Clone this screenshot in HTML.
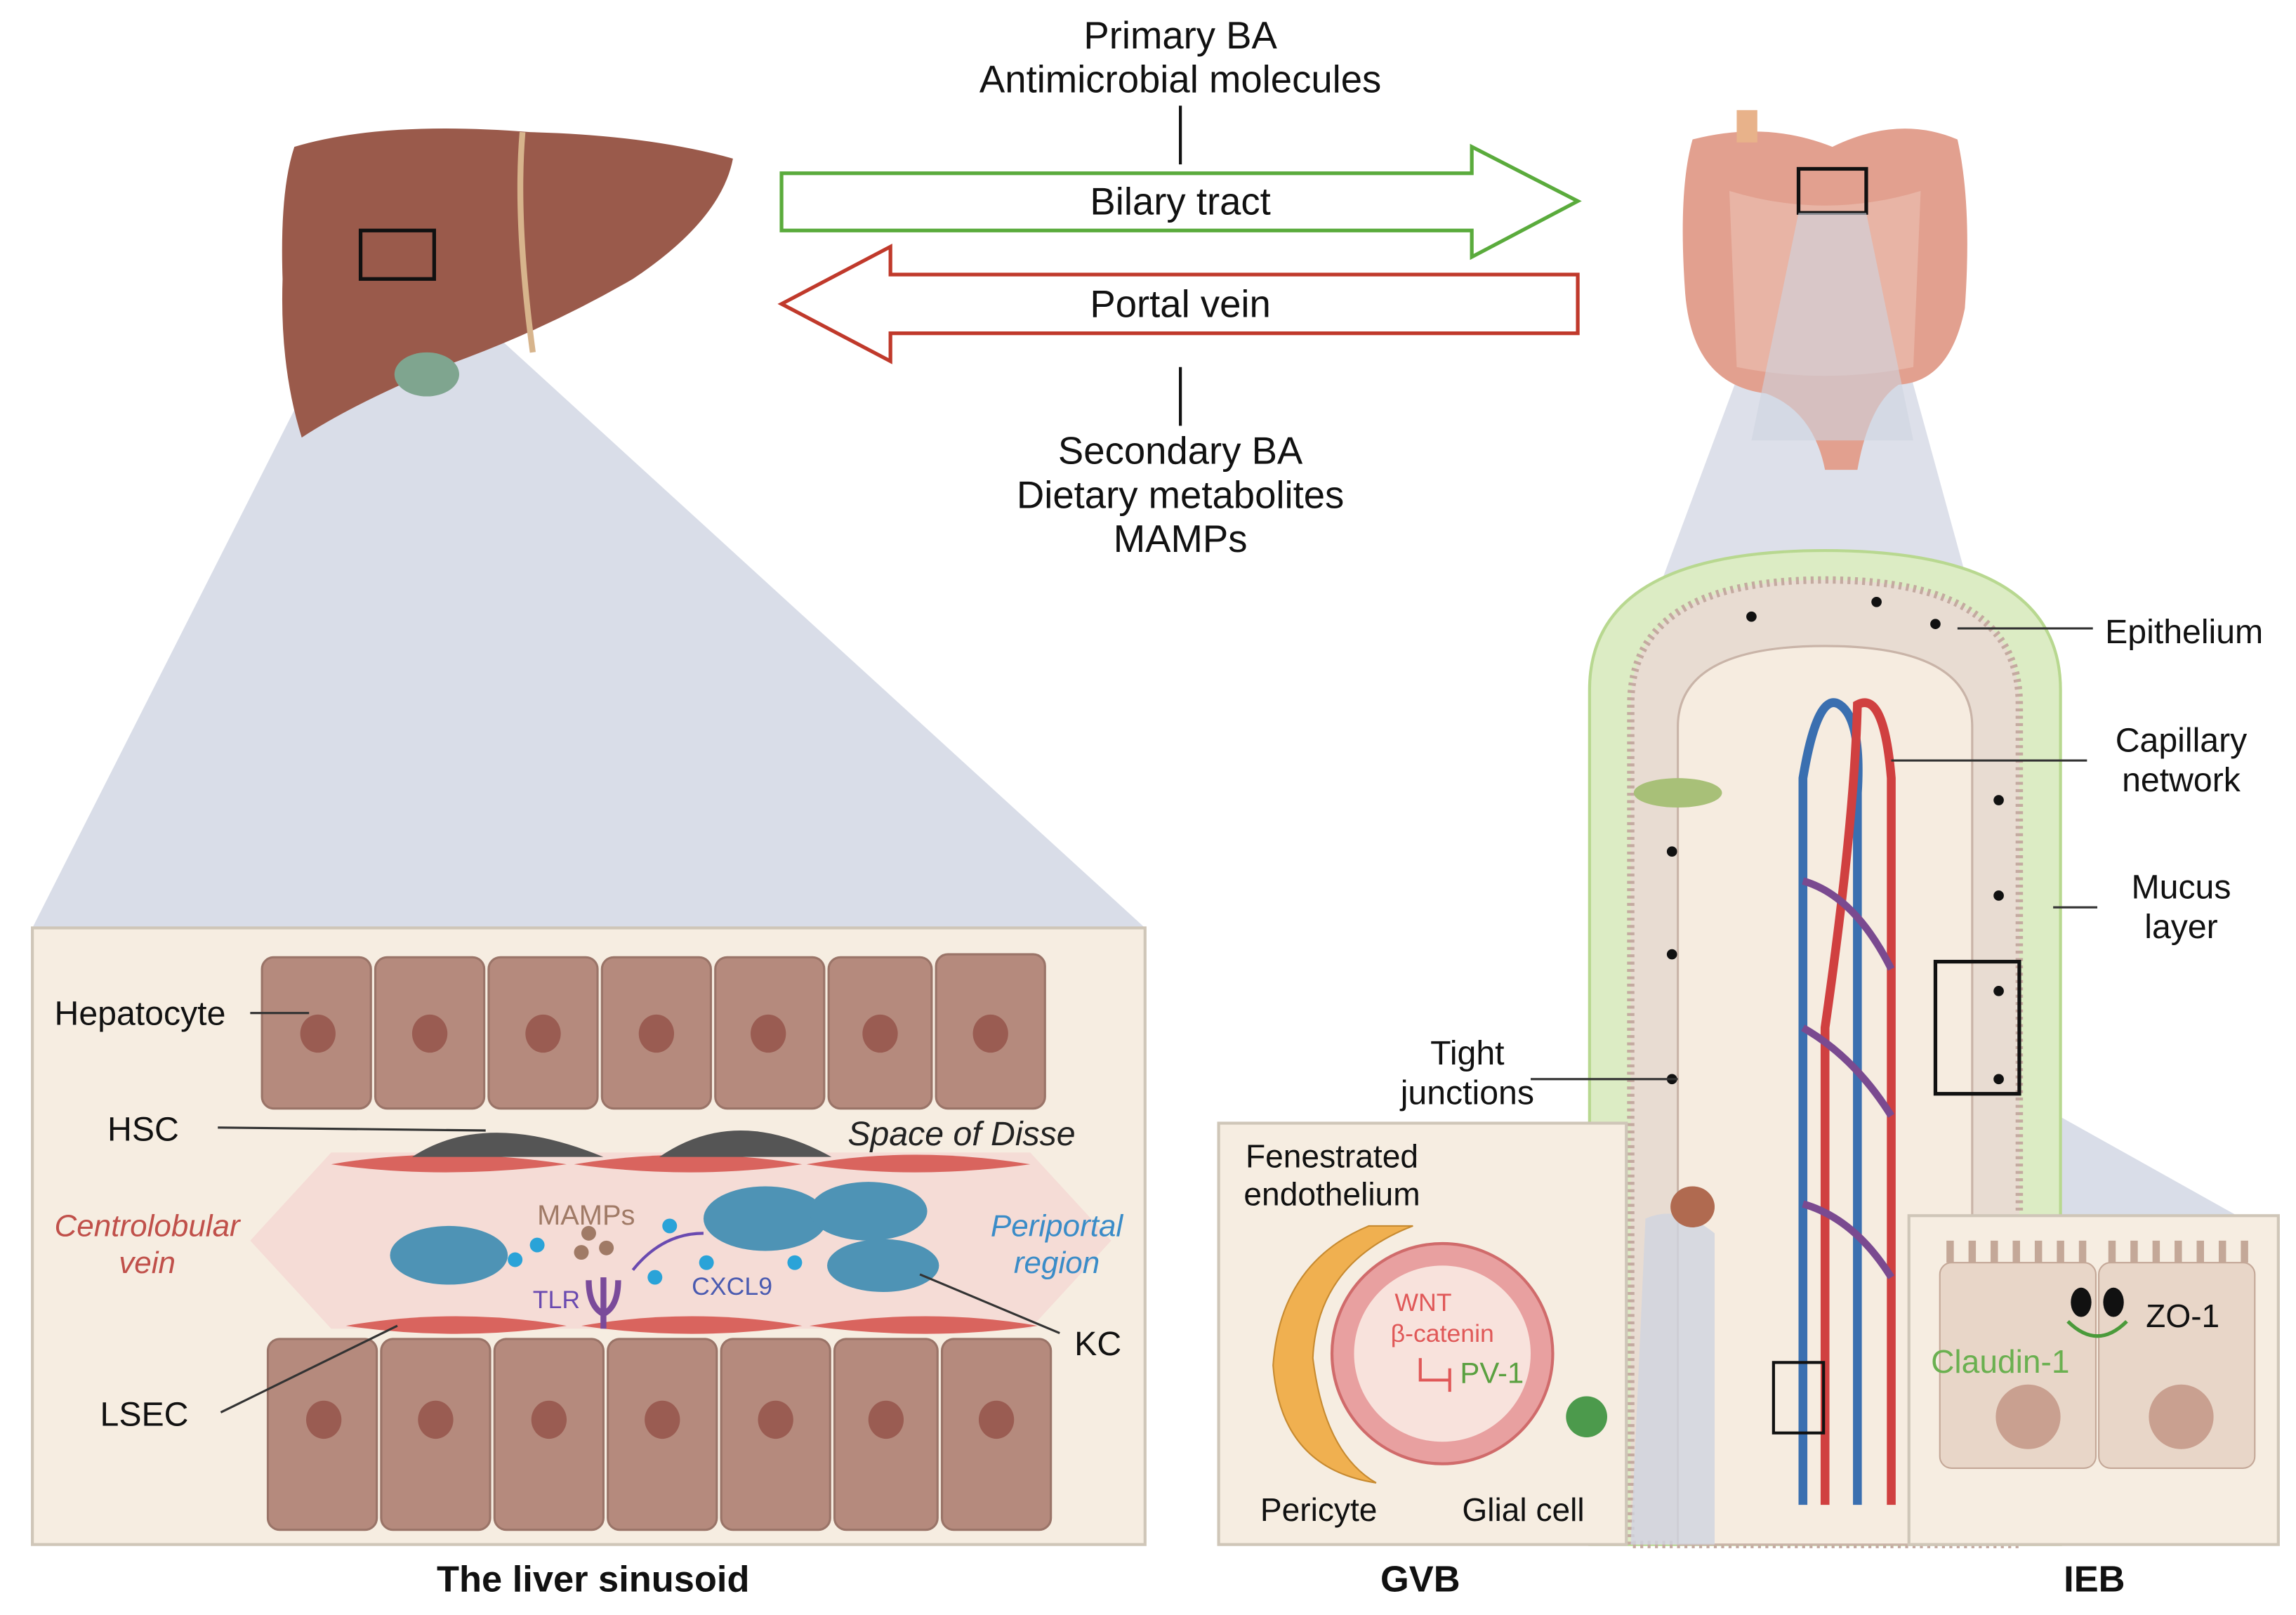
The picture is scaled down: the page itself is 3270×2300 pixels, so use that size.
<!DOCTYPE html>
<html><head><meta charset="utf-8"><style>
html,body{margin:0;padding:0;background:#fff;}
svg{display:block;}
text{font-family:"Liberation Sans",sans-serif;}
</style></head><body>
<svg width="3270" height="2300" viewBox="0 0 1560 1100" preserveAspectRatio="none" xmlns="http://www.w3.org/2000/svg">
<rect width="1560" height="1100" fill="#fff"/>
<!-- projections -->
<polygon points="245,190 295,190 778,632 22,632" fill="#d9dde8"/>
<polygon points="1222,145 1268,145 1335,390 1120,420" fill="#d9dde8" opacity="0.9"/>
<polygon points="1315,745 1372,745 1520,828 1297,828" fill="#d9dde8"/>
<polygon points="1205,975 1240,975 1105,1052 1105,820" fill="#d9dde8"/>
<!-- liver -->
<path d="M200,100 Q260,82 360,90 Q440,92 498,108 Q490,150 430,190 Q370,225 300,250 Q240,275 205,298 Q190,250 192,190 Q190,130 200,100Z" fill="#9a5a4b"/>
<path d="M355,90 Q350,150 362,240" stroke="#d7b48c" stroke-width="4" fill="none"/>
<ellipse cx="290" cy="255" rx="22" ry="15" fill="#7fa58f"/>
<rect x="245" y="157" width="50" height="33" fill="none" stroke="#111" stroke-width="2.5"/>
<!-- intestine -->
<path d="M1150,95 Q1200,82 1245,100 Q1290,78 1330,95 Q1340,140 1335,210 Q1325,260 1290,262 Q1270,275 1262,320 L1240,320 Q1232,280 1200,268 Q1150,262 1145,200 Q1140,130 1150,95Z" fill="#e2a08f"/>
<path d="M1175,130 Q1240,150 1305,130 L1300,250 Q1240,262 1180,250Z" fill="#e8b4a5"/>
<rect x="1180" y="75" width="14" height="22" fill="#e8b28a"/>
<rect x="1222" y="115" width="46" height="30" fill="none" stroke="#111" stroke-width="2.5"/>
<polygon points="1222,145 1268,145 1300,300 1190,300" fill="#cfd3e0" opacity="0.6"/>
<!-- arrows -->
<path d="M531,118 L1000,118 L1000,100 L1072,137 L1000,175 L1000,157 L531,157Z" fill="#fff" stroke="#5aab3c" stroke-width="2.5"/>
<path d="M1072,187 L605,187 L605,168 L531,207 L605,246 L605,227 L1072,227Z" fill="#fff" stroke="#c0392b" stroke-width="2.5"/>
<g font-size="26" text-anchor="middle" fill="#111">
<text x="802" y="33">Primary BA</text>
<text x="802" y="63">Antimicrobial molecules</text>
<text x="802" y="146">Bilary tract</text>
<text x="802" y="216">Portal vein</text>
<text x="802" y="316">Secondary BA</text>
<text x="802" y="346">Dietary metabolites</text>
<text x="802" y="376">MAMPs</text>
</g>
<line x1="802" y1="72" x2="802" y2="112" stroke="#111" stroke-width="2"/>
<line x1="802" y1="250" x2="802" y2="290" stroke="#111" stroke-width="2"/>
<!-- liver sinusoid box -->
<rect x="22" y="632" width="756" height="420" fill="#f6ede1" stroke="#cfc6b8" stroke-width="2"/>
<polygon points="225,785 700,785 755,845 700,905 225,905 170,845" fill="#f5dcd6"/>
<g fill="#b58a7d" stroke="#9a7468" stroke-width="1.5">
<rect x="178" y="652" width="74" height="103" rx="8"/><rect x="255" y="652" width="74" height="103" rx="8"/><rect x="332" y="652" width="74" height="103" rx="8"/><rect x="409" y="652" width="74" height="103" rx="8"/><rect x="486" y="652" width="74" height="103" rx="8"/><rect x="563" y="652" width="70" height="103" rx="8"/><rect x="636" y="650" width="74" height="105" rx="8"/>
<rect x="182" y="912" width="74" height="130" rx="8"/><rect x="259" y="912" width="74" height="130" rx="8"/><rect x="336" y="912" width="74" height="130" rx="8"/><rect x="413" y="912" width="74" height="130" rx="8"/><rect x="490" y="912" width="74" height="130" rx="8"/><rect x="567" y="912" width="70" height="130" rx="8"/><rect x="640" y="912" width="74" height="130" rx="8"/>
</g>
<g fill="#9a5c52">
<ellipse cx="216" cy="704" rx="12" ry="13"/><ellipse cx="292" cy="704" rx="12" ry="13"/><ellipse cx="369" cy="704" rx="12" ry="13"/><ellipse cx="446" cy="704" rx="12" ry="13"/><ellipse cx="522" cy="704" rx="12" ry="13"/><ellipse cx="598" cy="704" rx="12" ry="13"/><ellipse cx="673" cy="704" rx="12" ry="13"/>
<ellipse cx="220" cy="967" rx="12" ry="13"/><ellipse cx="296" cy="967" rx="12" ry="13"/><ellipse cx="373" cy="967" rx="12" ry="13"/><ellipse cx="450" cy="967" rx="12" ry="13"/><ellipse cx="527" cy="967" rx="12" ry="13"/><ellipse cx="602" cy="967" rx="12" ry="13"/><ellipse cx="677" cy="967" rx="12" ry="13"/>
</g>
<g fill="#d9645e">
<path d="M225,793 Q300,780 385,793 Q300,804 225,793Z"/><path d="M390,793 Q470,780 545,793 Q470,804 390,793Z"/><path d="M548,793 Q620,780 700,793 Q620,804 548,793Z"/>
<path d="M235,903 Q310,890 385,903 Q310,914 235,903Z"/><path d="M395,903 Q470,890 545,903 Q470,914 395,903Z"/><path d="M550,903 Q630,890 705,903 Q630,914 550,903Z"/>
</g>
<path d="M280,788 Q330,755 410,788Z" fill="#555"/><path d="M448,788 Q500,752 565,788Z" fill="#555"/>
<g fill="#4e93b5"><ellipse cx="305" cy="855" rx="40" ry="20"/><ellipse cx="520" cy="830" rx="42" ry="22"/><ellipse cx="590" cy="825" rx="40" ry="20"/><ellipse cx="600" cy="862" rx="38" ry="18"/></g>
<g fill="#2aa3d8"><circle cx="350" cy="858" r="5"/><circle cx="365" cy="848" r="5"/><circle cx="455" cy="835" r="5"/><circle cx="480" cy="860" r="5"/><circle cx="540" cy="860" r="5"/><circle cx="445" cy="870" r="5"/></g>
<g fill="#a07a66"><circle cx="400" cy="840" r="5"/><circle cx="412" cy="850" r="5"/><circle cx="395" cy="853" r="5"/></g>
<path d="M400,872 Q400,890 410,895 Q420,890 420,872 M410,870 L410,905" stroke="#7a4a9a" stroke-width="4" fill="none"/>
<path d="M430,865 Q450,840 478,840" stroke="#6a4ab0" stroke-width="2" fill="none"/>
<g font-size="23" fill="#111">
<text x="37" y="698">Hepatocyte</text><text x="73" y="777">HSC</text><text x="68" y="971">LSEC</text><text x="730" y="923">KC</text>
</g>
<text x="576" y="780" font-size="23" font-style="italic" fill="#222">Space of Disse</text>
<text x="100" y="842" font-size="21" font-style="italic" fill="#c0504a" text-anchor="middle">Centrolobular</text>
<text x="100" y="867" font-size="21" font-style="italic" fill="#c0504a" text-anchor="middle">vein</text>
<text x="718" y="842" font-size="21" font-style="italic" fill="#3a8cc8" text-anchor="middle">Periportal</text>
<text x="718" y="867" font-size="21" font-style="italic" fill="#3a8cc8" text-anchor="middle">region</text>
<text x="365" y="834" font-size="19" fill="#a07a66">MAMPs</text>
<text x="362" y="891" font-size="17" fill="#6a4ab0">TLR</text>
<text x="470" y="882" font-size="17" fill="#4a5ab0">CXCL9</text>
<g stroke="#333" stroke-width="1.5"><line x1="170" y1="690" x2="210" y2="690"/><line x1="148" y1="768" x2="330" y2="770"/><line x1="150" y1="962" x2="270" y2="903"/><line x1="720" y1="908" x2="625" y2="868"/></g>
<text x="403" y="1084" font-size="25" font-weight="bold" text-anchor="middle" fill="#111">The liver sinusoid</text>
<!-- villus -->
<path d="M1080,1052 L1080,470 Q1080,375 1240,375 Q1400,375 1400,470 L1400,1052Z" fill="#dcecc4" stroke="#b8d890" stroke-width="2"/>
<path d="M1108,1052 L1108,480 Q1108,395 1240,395 Q1372,395 1372,480 L1372,1052Z" fill="#e8dcd2" stroke="#c4aaa0" stroke-width="5" stroke-dasharray="2 3"/>
<path d="M1140,1052 L1140,495 Q1140,440 1240,440 Q1340,440 1340,495 L1340,1052Z" fill="#f6ece0" stroke="#c9b4a8" stroke-width="1.5"/>
<path d="M1118,830 Q1140,820 1165,840 L1165,1052 L1108,1052Z" fill="#cfd4e0" opacity="0.8"/>
<ellipse cx="1150" cy="822" rx="15" ry="14" fill="#b06a50"/>
<ellipse cx="1140" cy="540" rx="30" ry="10" fill="#a8c078"/>
<path d="M1225,1025 L1225,530 Q1235,470 1250,480 Q1265,490 1262,540 L1262,1025" fill="none" stroke="#3a6fb0" stroke-width="6"/>
<path d="M1240,1025 L1240,700 Q1260,560 1262,480 Q1280,470 1285,530 L1285,1025" fill="none" stroke="#d04040" stroke-width="6"/>
<path d="M1225,600 Q1260,610 1285,660 M1225,700 Q1260,720 1285,760 M1225,820 Q1260,830 1285,870" fill="none" stroke="#7a4a90" stroke-width="5"/>
<rect x="1205" y="928" width="34" height="48" fill="none" stroke="#111" stroke-width="2"/>
<rect x="1315" y="655" width="57" height="90" fill="none" stroke="#111" stroke-width="2.5"/>
<g fill="#111"><circle cx="1136" cy="735" r="3.5"/><circle cx="1136" cy="650" r="3.5"/><circle cx="1136" cy="580" r="3.5"/><circle cx="1358" cy="545" r="3.5"/><circle cx="1358" cy="610" r="3.5"/><circle cx="1358" cy="675" r="3.5"/><circle cx="1358" cy="735" r="3.5"/><circle cx="1190" cy="420" r="3.5"/><circle cx="1275" cy="410" r="3.5"/><circle cx="1315" cy="425" r="3.5"/></g>
<g font-size="23" fill="#111" text-anchor="middle">
<text x="1484" y="438">Epithelium</text><text x="1482" y="512">Capillary</text><text x="1482" y="539">network</text>
<text x="1482" y="612">Mucus</text><text x="1482" y="639">layer</text>
<text x="997" y="725">Tight</text><text x="997" y="752">junctions</text>
</g>
<g stroke="#333" stroke-width="1.5"><line x1="1330" y1="428" x2="1422" y2="428"/><line x1="1285" y1="518" x2="1418" y2="518"/><line x1="1395" y1="618" x2="1425" y2="618"/><line x1="1040" y1="735" x2="1140" y2="735"/></g>
<!-- GVB -->
<rect x="828" y="765" width="277" height="287" fill="#f6ede1" stroke="#cfc6b8" stroke-width="2"/>
<path d="M930,835 Q870,860 865,930 Q870,1000 935,1010 Q900,990 892,925 Q895,860 960,835Z" fill="#f0b050" stroke="#c78a30"/>
<circle cx="980" cy="922" r="75" fill="#e8a0a0" stroke="#d06b6b" stroke-width="2"/>
<circle cx="980" cy="922" r="60" fill="#f8e2dc"/>
<ellipse cx="1078" cy="965" rx="14" ry="14" fill="#4c9a4c"/>
<g font-size="22" fill="#111" text-anchor="middle">
<text x="905" y="795">Fenestrated</text><text x="905" y="821">endothelium</text>
<text x="896" y="1036">Pericyte</text><text x="1035" y="1036">Glial cell</text>
</g>
<text x="967" y="893" font-size="17" fill="#e05858" text-anchor="middle">WNT</text>
<text x="980" y="914" font-size="17" fill="#e05858" text-anchor="middle">β-catenin</text>
<path d="M965,925 L965,940 L985,940 M985,932 L985,948" stroke="#e05858" stroke-width="2" fill="none"/>
<text x="992" y="942" font-size="20" fill="#5aa040">PV-1</text>
<text x="965" y="1084" font-size="25" font-weight="bold" text-anchor="middle" fill="#111">GVB</text>
<!-- IEB -->
<rect x="1297" y="828" width="251" height="224" fill="#f6ede1" stroke="#cfc6b8" stroke-width="2"/>
<rect x="1318" y="860" width="106" height="140" rx="8" fill="#e8d6c8" stroke="#c4a898"/>
<rect x="1426" y="860" width="106" height="140" rx="8" fill="#e8d6c8" stroke="#c4a898"/>
<g stroke="#c4a898" stroke-width="5"><line x1="1325" y1="845" x2="1325" y2="860"/><line x1="1340" y1="845" x2="1340" y2="860"/><line x1="1355" y1="845" x2="1355" y2="860"/><line x1="1370" y1="845" x2="1370" y2="860"/><line x1="1385" y1="845" x2="1385" y2="860"/><line x1="1400" y1="845" x2="1400" y2="860"/><line x1="1415" y1="845" x2="1415" y2="860"/><line x1="1435" y1="845" x2="1435" y2="860"/><line x1="1450" y1="845" x2="1450" y2="860"/><line x1="1465" y1="845" x2="1465" y2="860"/><line x1="1480" y1="845" x2="1480" y2="860"/><line x1="1495" y1="845" x2="1495" y2="860"/><line x1="1510" y1="845" x2="1510" y2="860"/><line x1="1525" y1="845" x2="1525" y2="860"/></g>
<circle cx="1378" cy="965" r="22" fill="#c9a090"/><circle cx="1482" cy="965" r="22" fill="#c9a090"/>
<ellipse cx="1414" cy="887" rx="7" ry="10" fill="#111"/><ellipse cx="1436" cy="887" rx="7" ry="10" fill="#111"/>
<path d="M1405,900 Q1425,920 1445,900" stroke="#4a9a3a" stroke-width="2.5" fill="none"/>
<text x="1458" y="904" font-size="22" fill="#111">ZO-1</text>
<text x="1312" y="935" font-size="22" fill="#6ab050">Claudin-1</text>
<text x="1423" y="1084" font-size="25" font-weight="bold" text-anchor="middle" fill="#111">IEB</text>
</svg>
</body></html>
